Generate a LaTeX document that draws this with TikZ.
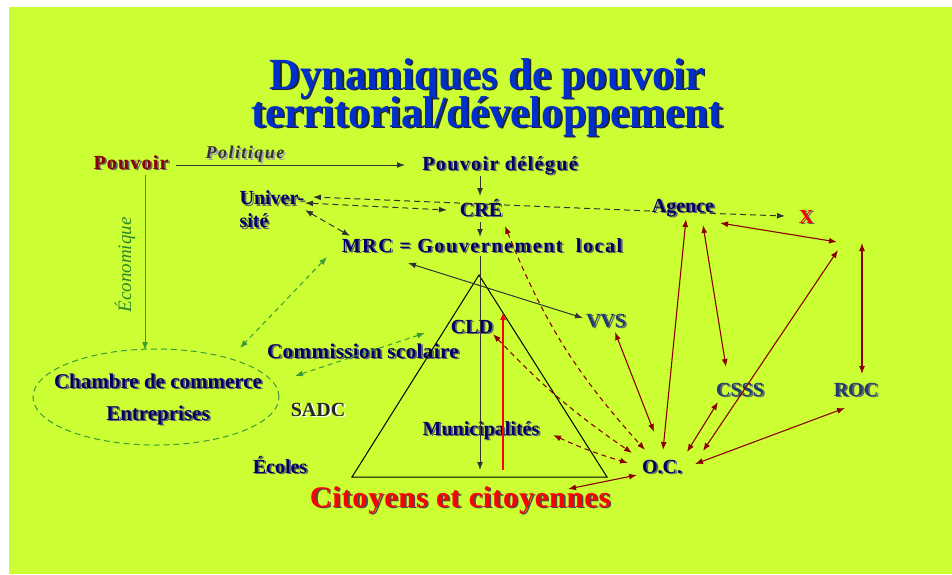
\documentclass[tikz,border=0pt]{standalone}
\usepackage{fontspec}
\setmainfont{Liberation Serif}
\usetikzlibrary{arrows.meta,shapes.geometric}

\definecolor{fond}{HTML}{CCFF33}
\definecolor{marine}{HTML}{000066}
\definecolor{bleugris}{HTML}{1F3D6E}
\definecolor{bleutitre}{HTML}{0030CC}
\definecolor{bordeaux}{HTML}{8B0000}
\definecolor{vert}{HTML}{3A9A3A}
\definecolor{vertfonce}{HTML}{2A862A}
\definecolor{gris}{HTML}{333333}

% texte avec ombre portee
\newcommand{\ombre}[3][black!60]{\makebox[0pt][l]{\kern1.8pt\raisebox{-1.8pt}{\textcolor{#1}{#3}}}\textcolor{#2}{#3}}
\newcommand{\lblfont}{\fontsize{20}{23}\selectfont\bfseries}

\begin{document}
\begin{tikzpicture}[x=1pt,y=-1pt,>={Latex[length=8pt,width=6pt]},
  lbl/.style={inner sep=1pt,font=\lblfont,text height=14pt,text depth=4pt},
  titre/.style={inner sep=0pt,anchor=base,font=\fontsize{42}{44}\selectfont\bfseries},
  fleche/.style={draw=gris,line width=1pt},
  tirets/.style={draw=gris,line width=1pt,dash pattern=on 6pt off 4pt},
  vertt/.style={draw=vert,line width=1pt,dash pattern=on 5pt off 4pt},
  lien/.style={draw=bordeaux,line width=1.1pt,<->},
  lienpt/.style={draw=bordeaux,line width=1.1pt,<->,dash pattern=on 5pt off 4pt}]

\useasboundingbox (0,0) rectangle (952,574);
\fill[white] (0,0) rectangle (952,574);
\fill[fond] (9,7) rectangle (952,574);

% titre
\node[titre] (titre1) at (487,89) {\scalebox{1.02}[1.06]{\ombre[black!85]{bleutitre}{Dynamiques de pouvoir}}};
\node[titre] (titre2) at (487,127) {\scalebox{1.02}[1.06]{\ombre[black!85]{bleutitre}{territorial/développement}}};

% noeuds
\node[lbl,font=\lblfont\addfontfeature{LetterSpace=6}] (pouvoir) at (131,164) {\ombre{bordeaux}{Pouvoir}};
\node[inner sep=1pt,font=\fontsize{18}{20}\selectfont\bfseries\itshape\addfontfeature{LetterSpace=8}] (politique) at (245,155) {\ombre[black!35]{gris}{Politique}};
\node[lbl,font=\lblfont\addfontfeature{LetterSpace=7}] (delegue) at (500,165) {\ombre{marine}{Pouvoir délégué}};
\node[lbl] (cre) at (481,211) {\ombre{marine}{CRÉ}};
\node[lbl,font=\lblfont\addfontfeature{LetterSpace=8}] (mrc) at (482,247) {\ombre{marine}{MRC = Gouvernement\ \ local}};
\node[inner sep=1pt,font=\lblfont,align=left] (univ) at (272,210) {\ombre{marine}{Univer-}\\\ombre{marine}{sité}};
\node[lbl] (agence) at (683,207) {\ombre{marine}{Agence}};
\node[lbl] (xnode) at (806,218) {\ombre{red}{X}};
\node[lbl] (vvs) at (606,322) {\ombre{bleugris}{VVS}};
\node[lbl] (cld) at (472,328) {\ombre{marine}{CLD}};
\node[lbl,font=\fontsize{21}{23}\selectfont\bfseries\addfontfeature{LetterSpace=2}] (comm) at (363,353) {\ombre{marine}{Commission scolaire}};
\node[lbl] (sadc) at (318,411) {\ombre[white]{black!85}{SADC}};
\node[lbl] (ecoles) at (280,468) {\ombre{marine}{Écoles}};
\node[lbl] (muni) at (481,430) {\ombre{marine}{Municipalités}};
\node[lbl] (oc) at (662,468) {\ombre{marine}{O.C.}};
\node[lbl] (csss) at (740,391) {\ombre{bleugris}{CSSS}};
\node[lbl] (roc) at (856,391) {\ombre{bleugris}{ROC}};
\node[inner sep=0pt,anchor=base,font=\fontsize{30}{32}\selectfont\bfseries\addfontfeature{LetterSpace=3}] (citoyens) at (460,507) {\ombre[black!70]{red}{Citoyens et citoyennes}};
\node[ellipse,draw=vert,line width=1pt,dash pattern=on 6pt off 4pt,minimum width=246pt,minimum height=96pt,inner sep=0pt] (cc) at (156,397) {};
\node[inner sep=0pt,font=\fontsize{21}{23}\selectfont\bfseries,align=center] (chambre) at (158,400)
  {\ombre{marine}{Chambre de commerce}\\[9pt]\ombre{marine}{Entreprises}};
\node[rotate=90,inner sep=1pt,font=\fontsize{19}{20}\selectfont\itshape] (eco) at (125,265) {\textcolor{vertfonce}{Économique}};

\coordinate (pa) at (837,242);
\coordinate (pb) at (838,250);
\coordinate (pc) at (862,243);
\coordinate (sommet) at (479,275);
\coordinate (basg) at (352,477);
\coordinate (basd) at (607,477);
\coordinate (base) at (480,470);
\coordinate (rbas) at (503,470);
\coordinate (rhaut) at (503,312);

% triangle
\draw[black,line width=1pt] (sommet) -- (basg) -- (basd) -- cycle;

% fleches noires
\draw[fleche,->] ([shift={(45,1)}]pouvoir.center) -- ([shift={(-95,0)}]delegue.center);
\draw[fleche,->] ([shift={(-20,11)}]delegue.center) -- ([shift={(-1,-15)}]cre.center);
\draw[fleche,->] ([shift={(-1,11)}]cre.center) -- ([shift={(-2,-10)}]mrc.center);
\draw[fleche,->] ([shift={(-2,9)}]mrc.center) -- (base);
\draw[fleche,<->] ([shift={(-74,16)}]mrc.center) -- ([shift={(-23,-4)}]vvs.center);
\draw[tirets,->] ([shift={(-33,4)}]agence.center) -- ([shift={(41,-13)}]univ.center);
\draw[tirets,<->] ([shift={(33,-7)}]univ.center) -- ([shift={(-34,-1)}]cre.center);
\draw[tirets,<->] ([shift={(33,0)}]univ.center) -- ([shift={(-132,-11)}]mrc.center);
\draw[tirets,->] ([shift={(17,6)}]agence.center) -- ([shift={(-21,-2)}]xnode.center);

% fleches vertes
\draw[draw=vert,line width=1pt,->] ([shift={(14,11)}]pouvoir.center) -- ([shift={(-11,-47)}]cc.center);
\draw[vertt,<->] ([shift={(-155,10)}]mrc.center) -- ([shift={(84,-49)}]cc.center);
\draw[vertt,<->] ([shift={(139,-21)}]cc.center) -- ([shift={(-47,5)}]cld.center);

% fleche rouge
\draw[red,line width=1.5pt,->] (rbas) -- (rhaut);

% liens bordeaux
\draw[lien] ([shift={(3,12)}]agence.center) -- ([shift={(1,-18)}]oc.center);
\draw[lien] ([shift={(20,18)}]agence.center) -- ([shift={(-14,-24)}]csss.center);
\draw[lien] ([shift={(37,16)}]agence.center) -- (pa);
\draw[lien] (pb) -- ([shift={(41,-17)}]oc.center);
\draw[lien] (pc) -- ([shift={(6,-17)}]roc.center);
\draw[lien] ([shift={(9,10)}]vvs.center) -- ([shift={(-8,-36)}]oc.center);
\draw[lien] ([shift={(-22,11)}]csss.center) -- ([shift={(25,-16)}]oc.center);
\draw[lien] ([shift={(-11,17)}]roc.center) -- ([shift={(33,-4)}]oc.center);
\draw[lien] ([shift={(108,-18)}]citoyens.base) -- ([shift={(-25,7)}]oc.center);
\draw[lienpt] ([shift={(24,15)}]cre.center) to[bend right=10] ([shift={(-17,-18)}]oc.center);
\draw[lienpt] ([shift={(21,6)}]cld.center) to[bend right=6] ([shift={(-30,-15)}]oc.center);
\draw[lienpt] ([shift={(72,5)}]muni.center) to[bend right=4] ([shift={(-34,-5)}]oc.center);

\end{tikzpicture}
\end{document}
